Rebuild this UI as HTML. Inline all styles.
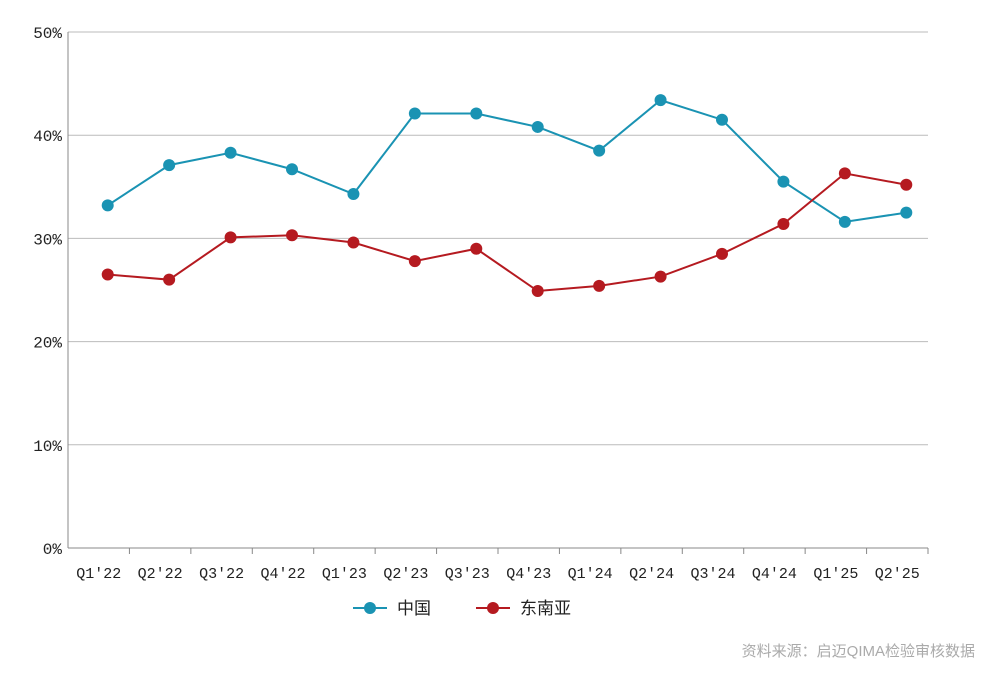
<!DOCTYPE html>
<html><head><meta charset="utf-8"><style>
body{margin:0;background:#fff;width:1000px;height:677px;overflow:hidden}
svg text{font-family:"Liberation Mono","Noto Sans CJK SC",monospace;fill:#222}
</style></head><body>
<svg width="1000" height="677" id="chart"></svg>
<script>
const categories=["Q1'22","Q2'22","Q3'22","Q4'22","Q1'23","Q2'23","Q3'23","Q4'23","Q1'24","Q2'24","Q3'24","Q4'24","Q1'25","Q2'25"];
const chinaValues=[33.2,37.1,38.3,36.7,34.3,42.1,42.1,40.8,38.5,43.4,41.5,35.5,31.6,32.5];
const seaValues=[26.5,26.0,30.1,30.3,29.6,27.8,29.0,24.9,25.4,26.3,28.5,31.4,36.3,35.2];
const yTicks=[0,10,20,30,40,50];
const yTickLabels=["0%","10%","20%","30%","40%","50%"];
const seriesNames=["中国","东南亚"];
const NS="http://www.w3.org/2000/svg";
const svg=document.getElementById('chart');
const L=68,R=928,T=32,B=548;
const band=(R-L)/categories.length;
function x(i){return L+band*(i+0.5)+9;}
function y(v){return B-(v/50)*(B-T);}
function mk(tag,attrs){const e=document.createElementNS(NS,tag);for(const k in attrs)e.setAttribute(k,attrs[k]);svg.appendChild(e);return e;}
yTicks.forEach((t,i)=>{
  const g=mk('line',{x1:L,x2:R,y1:y(t),y2:y(t),stroke:t===0?'#888':'#bbb','stroke-width':1});
  
  
  const tx=mk('text',{x:62,y:y(t)+6,'text-anchor':'end','font-size':16});
  tx.textContent=yTickLabels[i];
  
  
});
const ax=mk('line',{x1:L,x2:L,y1:T,y2:B,stroke:'#888'});


categories.forEach((c,i)=>{
  const tk=mk('line',{x1:L+band*(i+1),x2:L+band*(i+1),y1:B,y2:B+6,stroke:'#888'});
  
  
  const tx=mk('text',{x:L+band*(i+0.5),y:578,'text-anchor':'middle','font-size':15});
  tx.textContent=c;
  
  
});
function series(vals,color,name){
  const p=mk('polyline',{points:vals.map((v,i)=>x(i)+','+y(v)).join(' '),fill:'none',stroke:color,'stroke-width':2});
  
  
  vals.forEach((v,i)=>{
    const c=mk('circle',{cx:x(i),cy:y(v),r:6,fill:color});
    
    
  });
}
series(chinaValues,'#1a93b3','china');
series(seaValues,'#b51a20','sea');
function legend(lx,color,label,name){
  const l=mk('line',{x1:lx,x2:lx+34,y1:608,y2:608,stroke:color,'stroke-width':2});
  
  
  const c=mk('circle',{cx:lx+17,cy:608,r:6,fill:color});
  
  
  const t=mk('text',{x:lx+44,y:614,'font-size':17});
  t.textContent=label;
  
  
}
legend(353,'#1a93b3',seriesNames[0],'china');
legend(476,'#b51a20',seriesNames[1],'sea');
const src=mk('text',{x:975,y:656,'text-anchor':'end','font-size':15});
src.style.fill='#aaa';
src.style.fontFamily='"Liberation Sans","Noto Sans CJK SC",sans-serif';
src.textContent='资料来源：启迈QIMA检验审核数据';


</script>
</body></html>
